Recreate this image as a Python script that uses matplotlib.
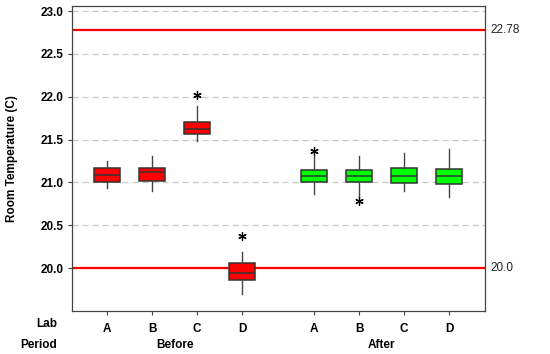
import matplotlib
matplotlib.use("Agg")
import matplotlib.pyplot as plt
from matplotlib.transforms import blended_transform_factory

plt.rcParams['font.family'] = ['Liberation Sans', 'DejaVu Sans']
plt.rcParams['font.weight'] = 'bold'

labs = ["A", "B", "C", "D", "A", "B", "C", "D"]
periods = ["Before", "After"]
positions = [0, 1, 2, 3, 4.6, 5.6, 6.6, 7.6]
q1 = [21.00, 21.02, 21.57, 19.86, 21.00, 21.00, 20.99, 20.98]
med = [21.085, 21.12, 21.625, 19.94, 21.08, 21.08, 21.08, 21.08]
q3 = [21.17, 21.17, 21.71, 20.06, 21.15, 21.15, 21.17, 21.16]
wlo = [20.93, 20.90, 21.49, 19.70, 20.87, 20.83, 20.90, 20.83]
whi = [21.25, 21.31, 21.89, 20.19, 21.31, 21.31, 21.34, 21.39]
outliers = [[], [], [22.02], [20.37], [21.37], [20.78], [], []]
colors = ["#ff0000"] * 4 + ["#00ff00"] * 4
limits = [22.78, 20.0]
limit_labels = ["22.78", "20.0"]
yticks = [20.0, 20.5, 21.0, 21.5, 22.0, 22.5, 23.0]

FS = 8.5
fig = plt.figure(figsize=(5.5, 3.54), dpi=100)
ax = fig.add_axes([0.131, 0.1215, 0.751, 0.8615])

stats = []
for i in range(len(labs)):
    stats.append(dict(q1=q1[i], med=med[i], q3=q3[i], whislo=wlo[i], whishi=whi[i], fliers=outliers[i]))

bp = ax.bxp(stats, positions=positions, widths=0.57, patch_artist=True, showcaps=False,
            boxprops=dict(edgecolor="#333333", linewidth=1.1),
            medianprops=dict(color="#333333", linewidth=1.1),
            whiskerprops=dict(color="#444444", linewidth=1.0),
            flierprops=dict(marker=(6, 2, 0), markersize=6, markeredgecolor="black",
                            markerfacecolor="black", markeredgewidth=0.9, linestyle="none"),
            zorder=3)
for patch, c in zip(bp['boxes'], colors):
    patch.set_facecolor(c)

for yv in yticks:
    ax.axhline(yv, color="#c8c8c8", linestyle=(0, (5, 3)), linewidth=0.9, zorder=1)

trans = blended_transform_factory(ax.transAxes, ax.transData)
for lv, lt in zip(limits, limit_labels):
    ax.axhline(lv, color="#ff0000", linewidth=1.6, zorder=2)
    ax.text(1.012, lv, lt, transform=trans, va="center", ha="left", fontsize=FS,
            fontweight="normal", color="#222222")

ax.set_ylim(19.5, 23.06)
ax.set_xlim(-0.78, 8.4)
ax.set_yticks(yticks)
ax.set_yticklabels([f"{v:.1f}" for v in yticks], fontsize=FS, fontweight="bold")
ax.set_xticks(positions)
ax.set_xticklabels(labs, fontsize=FS, fontweight="bold")
ax.tick_params(axis="x", length=3, pad=6, color="#444444")
ax.tick_params(axis="y", length=3, pad=3, color="#444444")
for s in ax.spines.values():
    s.set_color("#444444")
    s.set_linewidth(0.9)

ax.set_ylabel("Room Temperature (C)", fontsize=FS, fontweight="bold", labelpad=16)

xtrans = blended_transform_factory(ax.transData, fig.transFigure)
fig.text(57 / 550, 1 - 324 / 354, "Lab", ha="right", va="center", fontsize=FS, fontweight="bold")
fig.text(57 / 550, 1 - 345 / 354, "Period", ha="right", va="center", fontsize=FS, fontweight="bold")
ax.text((positions[1] + positions[2]) / 2, 1 - 345 / 354, periods[0], transform=xtrans,
        ha="center", va="center", fontsize=FS, fontweight="bold")
ax.text((positions[5] + positions[6]) / 2, 1 - 345 / 354, periods[1], transform=xtrans,
        ha="center", va="center", fontsize=FS, fontweight="bold")

fig.savefig("out.png", dpi=100)
